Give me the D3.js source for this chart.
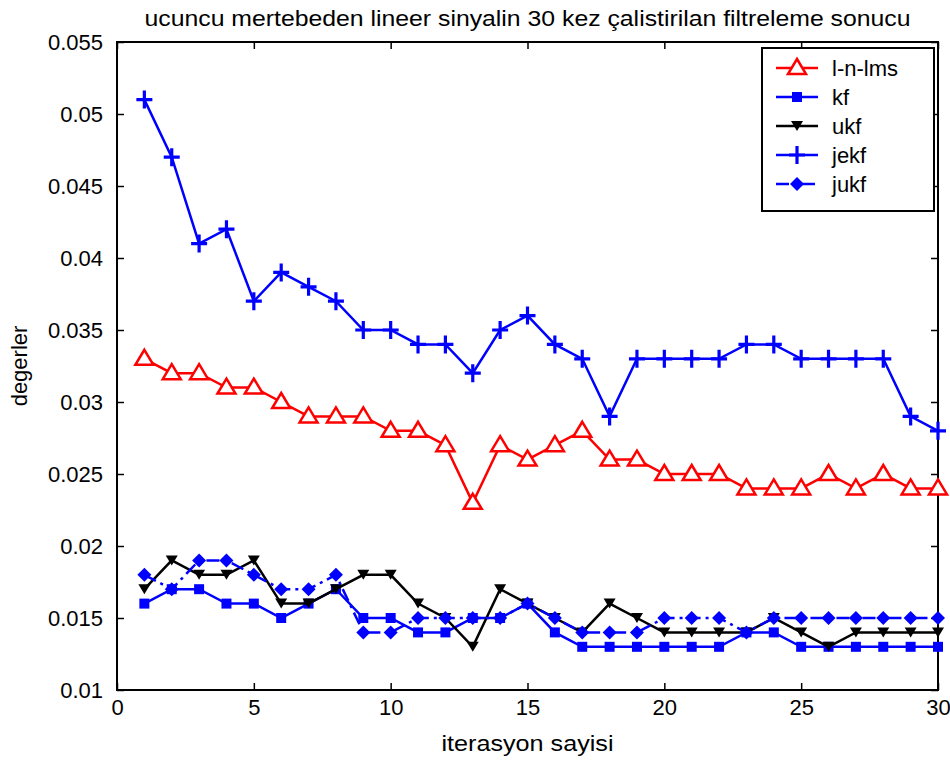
<!DOCTYPE html>
<html>
<head>
<meta charset="utf-8">
<script src="https://cdn.jsdelivr.net/npm/d3@7"></script>
<style>
  html, body { margin: 0; padding: 0; background: #fff; }
  svg { display: block; }
  text { font-family: "Liberation Sans Narrow", "Arial Narrow", "Liberation Sans", Arial, sans-serif; fill: #000; }
</style>
</head>
<body>
<svg id="chart" width="950" height="760"></svg>
<script>
// Iteration index (x values)
const iterations = d3.range(1, 31);

// Filter results per iteration
const lnlms = [0.033, 0.032, 0.032, 0.031, 0.031, 0.030, 0.029, 0.029, 0.029, 0.028,
               0.028, 0.027, 0.023, 0.027, 0.026, 0.027, 0.028, 0.026, 0.026, 0.025,
               0.025, 0.025, 0.024, 0.024, 0.024, 0.025, 0.024, 0.025, 0.024, 0.024];
const kf     = [0.016, 0.017, 0.017, 0.016, 0.016, 0.015, 0.016, 0.017, 0.015, 0.015,
               0.014, 0.014, 0.015, 0.015, 0.016, 0.014, 0.013, 0.013, 0.013, 0.013,
               0.013, 0.013, 0.014, 0.014, 0.013, 0.013, 0.013, 0.013, 0.013, 0.013];
const ukf    = [0.017, 0.019, 0.018, 0.018, 0.019, 0.016, 0.016, 0.017, 0.018, 0.018,
               0.016, 0.015, 0.013, 0.017, 0.016, 0.015, 0.014, 0.016, 0.015, 0.014,
               0.014, 0.014, 0.014, 0.015, 0.014, 0.013, 0.014, 0.014, 0.014, 0.014];
const jekf   = [0.051, 0.047, 0.041, 0.042, 0.037, 0.039, 0.038, 0.037, 0.035, 0.035,
               0.034, 0.034, 0.032, 0.035, 0.036, 0.034, 0.033, 0.029, 0.033, 0.033,
               0.033, 0.033, 0.034, 0.034, 0.033, 0.033, 0.033, 0.033, 0.029, 0.028];
const jukf   = [0.018, 0.017, 0.019, 0.019, 0.018, 0.017, 0.017, 0.018, 0.014, 0.014,
               0.015, 0.015, 0.015, 0.015, 0.016, 0.015, 0.014, 0.014, 0.014, 0.015,
               0.015, 0.015, 0.014, 0.015, 0.015, 0.015, 0.015, 0.015, 0.015, 0.015];

const seriesNames = ["l-n-lms", "kf", "ukf", "jekf", "jukf"];
const xTicks = [0, 5, 10, 15, 20, 25, 30];
const yTicks = [0.01, 0.015, 0.02, 0.025, 0.03, 0.035, 0.04, 0.045, 0.05, 0.055];
const yTickLabels = ["0.01", "0.015", "0.02", "0.025", "0.03", "0.035", "0.04", "0.045", "0.05", "0.055"];

const titleText = "ucuncu mertebeden lineer sinyalin 30 kez çalistirilan filtreleme sonucu";
const xLabel = "iterasyon sayisi";
const yLabel = "degerler";

const svg = d3.select("#chart");
const plot = { left: 117, right: 938, top: 42, bottom: 690 };

const x = d3.scaleLinear().domain([0, 30]).range([plot.left, plot.right]);
const y = d3.scaleLinear().domain([0.01, 0.055]).range([plot.bottom, plot.top]);

// Series styling
const styles = {
  "l-n-lms": { color: "#ff0000", marker: "triangle", dash: null },
  "kf":      { color: "#0000ff", marker: "square",   dash: null },
  "ukf":     { color: "#000000", marker: "tridown",  dash: null },
  "jekf":    { color: "#0000ff", marker: "plus",     dash: null },
  "jukf":    { color: "#0000ff", marker: "diamond",  dash: "13,5,3,5" }
};
const seriesData = { "l-n-lms": lnlms, "kf": kf, "ukf": ukf, "jekf": jekf, "jukf": jukf };

// Axes box and ticks (inward ticks on all four sides)
const axBottom = d3.axisBottom(x).tickValues(xTicks).tickSize(-7).tickFormat(d => d);
const axTop = d3.axisTop(x).tickValues(xTicks).tickSize(-7).tickFormat("");
const axLeft = d3.axisLeft(y).tickValues(yTicks).tickSize(-7)
  .tickFormat((d, i) => yTickLabels[i]);
const axRight = d3.axisRight(y).tickValues(yTicks).tickSize(-7).tickFormat("");

function styleAxis(g) {
  g.select(".domain").remove();
  g.selectAll(".tick line").attr("stroke", "#000").attr("stroke-width", 1.5);
  g.selectAll(".tick text").attr("font-size", 22);
}

svg.append("rect")
  .attr("x", plot.left).attr("y", plot.top)
  .attr("width", plot.right - plot.left).attr("height", plot.bottom - plot.top)
  .attr("fill", "#fff");

svg.append("g").attr("transform", `translate(0,${plot.bottom})`).call(axBottom).call(styleAxis)
  .selectAll(".tick text").attr("dy", null).attr("y", 25);
svg.append("g").attr("transform", `translate(0,${plot.top})`).call(axTop).call(styleAxis);
svg.append("g").attr("transform", `translate(${plot.left},0)`).call(axLeft).call(styleAxis)
  .selectAll(".tick text").attr("x", -14).attr("dy", "0.35em");
svg.append("g").attr("transform", `translate(${plot.right},0)`).call(axRight).call(styleAxis);

svg.append("rect")
  .attr("x", plot.left).attr("y", plot.top)
  .attr("width", plot.right - plot.left).attr("height", plot.bottom - plot.top)
  .attr("fill", "none").attr("stroke", "#000").attr("stroke-width", 2);

// Marker shapes
function drawMarker(g, type, color, cx, cy) {
  if (type === "triangle") {
    g.append("path")
      .attr("d", `M${cx},${cy - 9} L${cx + 9},${cy + 6} L${cx - 9},${cy + 6} Z`)
      .attr("fill", "#fff").attr("stroke", color).attr("stroke-width", 2.5);
  } else if (type === "square") {
    g.append("rect").attr("x", cx - 5).attr("y", cy - 5).attr("width", 10).attr("height", 10)
      .attr("fill", color);
  } else if (type === "tridown") {
    g.append("path")
      .attr("d", `M${cx - 6},${cy - 5} L${cx + 6},${cy - 5} L${cx},${cy + 5} Z`)
      .attr("fill", color);
  } else if (type === "plus") {
    g.append("path")
      .attr("d", `M${cx - 8},${cy} L${cx + 8},${cy} M${cx},${cy - 9} L${cx},${cy + 9}`)
      .attr("stroke", color).attr("stroke-width", 3.2);
  } else if (type === "diamond") {
    g.append("path")
      .attr("d", `M${cx},${cy - 7} L${cx + 7},${cy} L${cx},${cy + 7} L${cx - 7},${cy} Z`)
      .attr("fill", color);
  }
}

const line = d3.line().x((d, i) => x(iterations[i])).y(d => y(d));

const plotG = svg.append("g");
seriesNames.forEach(name => {
  const st = styles[name];
  const vals = seriesData[name];
  const g = plotG.append("g");
  g.append("path")
    .datum(vals)
    .attr("d", line)
    .attr("fill", "none")
    .attr("stroke", st.color)
    .attr("stroke-width", 2.5)
    .attr("stroke-dasharray", st.dash);
  vals.forEach((v, i) => drawMarker(g, st.marker, st.color, x(iterations[i]), y(v)));
});

// Legend
const legend = svg.append("g");
const lg = { x: 762, y: 48, w: 172, h: 163 };
legend.append("rect")
  .attr("x", lg.x).attr("y", lg.y).attr("width", lg.w).attr("height", lg.h)
  .attr("fill", "#fff").attr("stroke", "#000").attr("stroke-width", 2);
seriesNames.forEach((name, i) => {
  const st = styles[name];
  const cy = lg.y + 20 + i * 29;
  legend.append("line")
    .attr("x1", lg.x + 14).attr("x2", lg.x + 56).attr("y1", cy).attr("y2", cy)
    .attr("stroke", st.color).attr("stroke-width", 2.5)
    .attr("stroke-dasharray", st.dash);
  drawMarker(legend, st.marker, st.color, lg.x + 35, cy);
  legend.append("text")
    .attr("x", lg.x + 70).attr("y", cy).attr("dy", "0.35em")
    .attr("font-size", 22).text(name);
});

// Titles
svg.append("text")
  .attr("x", (plot.left + plot.right) / 2).attr("y", 26)
  .attr("text-anchor", "middle").attr("font-size", 22)
  .attr("textLength", 766).attr("lengthAdjust", "spacingAndGlyphs")
  .text(titleText);
svg.append("text")
  .attr("x", (plot.left + plot.right) / 2).attr("y", 751)
  .attr("text-anchor", "middle").attr("font-size", 22)
  .attr("textLength", 172).attr("lengthAdjust", "spacingAndGlyphs")
  .text(xLabel);
svg.append("text")
  .attr("transform", `translate(27,${(plot.top + plot.bottom) / 2}) rotate(-90)`)
  .attr("text-anchor", "middle").attr("font-size", 22)
  .text(yLabel);
</script>
</body>
</html>
